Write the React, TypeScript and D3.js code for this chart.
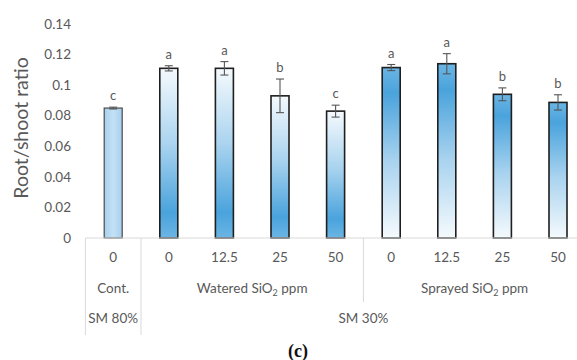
import React from "react";
import * as d3 from "d3";

// Root/shoot ratio by treatment
const categories = ["Cont-0", "W-0", "W-12.5", "W-25", "W-50", "S-0", "S-12.5", "S-25", "S-50"];
const doseLabels = ["0", "0", "12.5", "25", "50", "0", "12.5", "25", "50"];
const groups = ["cont", "water", "water", "water", "water", "spray", "spray", "spray", "spray"];
const ratioValues = [0.085, 0.111, 0.111, 0.093, 0.083, 0.1115, 0.114, 0.094, 0.0887];
const ratioErrors = [0.0006, 0.0017, 0.0044, 0.011, 0.0039, 0.002, 0.0066, 0.0042, 0.005];
const letters = ["c", "a", "a", "b", "c", "a", "a", "b", "b"];
const yTicks = [0, 0.02, 0.04, 0.06, 0.08, 0.1, 0.12, 0.14];

const W = 577;
const H = 360;
const FONT = "Lato, 'Open Sans', sans-serif";
const TEXT = "#595959";
const GRID = "#d9d9d9";

export default function App() {
  const axisY = 238;
  const x = d3.scaleBand<string>().domain(categories).range([85.4, 585.8]).padding(0);
  const y = d3.scaleLinear().domain([0, 0.14]).range([axisY, 24]);
  const barW = 18;
  const bw = x.bandwidth();

  const left = x(categories[0])!;
  const contEnd = x(categories[1])!;
  const waterEnd = x(categories[5])!;
  const right = x(categories[8])! + bw;

  const row1 = 257;
  const row2 = 288;
  const row3 = 318;
  const fs = 13.5;

  const sub = (label: string) => (
    <>
      {label} SiO
      <tspan fontSize={9} dy={3}>2</tspan>
      <tspan dy={-3}> ppm</tspan>
    </>
  );

  return (
    <svg width={W} height={H} style={{ position: "absolute", left: 0, top: 0, background: "#fff" }}>
      <defs>
        <linearGradient id="gWater" x1="0" y1="0" x2="0" y2="1">
          <stop offset="0" stopColor="#f5fafd" />
          <stop offset="0.45" stopColor="#a9d3ef" />
          <stop offset="0.85" stopColor="#4aa3dc" />
          <stop offset="1" stopColor="#6ab5e4" />
        </linearGradient>
        <linearGradient id="gSpray" x1="0" y1="0" x2="0" y2="1">
          <stop offset="0" stopColor="#6ab5e4" />
          <stop offset="0.15" stopColor="#4aa3dc" />
          <stop offset="0.55" stopColor="#a9d3ef" />
          <stop offset="1" stopColor="#f5fafd" />
        </linearGradient>
        <linearGradient id="gCont" x1="0" y1="0" x2="1" y2="0">
          <stop offset="0" stopColor="#a6d0ee" />
          <stop offset="0.5" stopColor="#c4e1f5" />
          <stop offset="1" stopColor="#a6d0ee" />
        </linearGradient>
      </defs>

      {/* y tick labels */}
      {yTicks.map((t) => (
        <text
          key={t}
          x={71}
          y={y(t)}
          dy="0.35em"
          textAnchor="end"
          fontFamily={FONT}
          fontSize={fs}
          fill={TEXT}
        >
          {String(+t.toFixed(2))}
        </text>
      ))}

      <text
        transform={`translate(21,${y(0.07) - 3}) rotate(-90)`}
        textAnchor="middle"
        dy="0.35em"
        fontFamily={FONT}
        fontSize={19.5}
        fill={TEXT}
      >
        Root/shoot ratio
      </text>

      {/* bars */}
      {categories.map((c, i) => {
        const cx = x(c)! + bw / 2;
        const v = ratioValues[i];
        const fill = groups[i] === "cont" ? "url(#gCont)" : groups[i] === "water" ? "url(#gWater)" : "url(#gSpray)";
        const stroke = groups[i] === "cont" ? "#4a4a4a" : "#1f1f1f";
        return (
          <rect
            key={c}
            x={cx - barW / 2}
            y={y(v)}
            width={barW}
            height={axisY - y(v)}
            fill={fill}
            stroke={stroke}
            strokeWidth={groups[i] === "cont" ? 1.2 : 1.6}
          />
        );
      })}

      {/* error bars and letters */}
      {categories.map((c, i) => {
        const cx = x(c)! + bw / 2;
        const hi = y(ratioValues[i] + ratioErrors[i]);
        const lo = y(ratioValues[i] - ratioErrors[i]);
        return (
          <g key={"e" + c} stroke="#555" strokeWidth={1.1}>
            <line x1={cx} x2={cx} y1={hi} y2={lo} />
            <line x1={cx - 4} x2={cx + 4} y1={hi} y2={hi} />
            <line x1={cx - 4} x2={cx + 4} y1={lo} y2={lo} />
            <text
              x={cx}
              y={hi - 7}
              textAnchor="middle"
              fontFamily={FONT}
              fontSize={13}
              fill={TEXT}
              stroke="none"
            >
              {letters[i]}
            </text>
          </g>
        );
      })}

      {/* category axis */}
      <g stroke={GRID} strokeWidth={1}>
        <line x1={left} x2={right} y1={axisY} y2={axisY} />
        <line x1={left} x2={left} y1={axisY} y2={335} />
        <line x1={contEnd} x2={contEnd} y1={axisY} y2={335} />
        <line x1={waterEnd} x2={waterEnd} y1={axisY} y2={302} />
      </g>

      {categories.map((c, i) => (
        <text
          key={"d" + c}
          x={x(c)! + bw / 2}
          y={row1}
          dy="0.35em"
          textAnchor="middle"
          fontFamily={FONT}
          fontSize={fs}
          fill={TEXT}
        >
          {doseLabels[i]}
        </text>
      ))}

      <g fontFamily={FONT} fontSize={fs} fill={TEXT} textAnchor="middle">
        <text x={(left + contEnd) / 2} y={row2} dy="0.35em">Cont.</text>
        <text x={(contEnd + waterEnd) / 2} y={row2} dy="0.35em">{sub("Watered")}</text>
        <text x={(waterEnd + right) / 2} y={row2} dy="0.35em">{sub("Sprayed")}</text>
        <text x={(left + contEnd) / 2} y={row3} dy="0.35em">SM 80%</text>
        <text x={(contEnd + right) / 2} y={row3} dy="0.35em">SM 30%</text>
      </g>

      <text
        x={298}
        y={351}
        dy="0.35em"
        textAnchor="middle"
        fontFamily="'Liberation Serif', 'DejaVu Serif', serif"
        fontWeight="bold"
        fontSize={18}
        fill="#111"
      >
        (c)
      </text>
    </svg>
  );
}
